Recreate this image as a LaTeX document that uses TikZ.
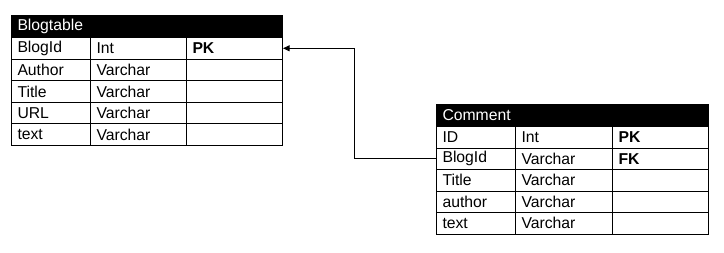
\documentclass[tikz,border=0pt]{standalone}
\usepackage{fontspec}
\setmainfont{Liberation Sans}
\usetikzlibrary{positioning}
\usetikzlibrary{arrows.meta}

\begin{document}
\begin{tikzpicture}[x=0.75pt,y=-0.75pt,line width=0.75pt,
  cell/.style={draw, anchor=north west, minimum height=16.2pt, inner xsep=4.5pt, inner ysep=0pt,
    text width=#1, align=left, font=\fontsize{11.8}{13}\selectfont},
  headbox/.style={cell=#1, fill=black, text=white, minimum height=16.5pt}]
  \useasboundingbox (0,0) rectangle (724,253);

  % Blogtable
  \node[headbox=194.25pt] (bt-head) at (11,15) {Blogtable};
  \foreach \n/\t/\k [count=\i] in {BlogId/Int/\textbf{PK}, Author/Varchar/{}, Title/Varchar/{},
      URL/Varchar/{}, text/Varchar/{}}
  {
    \node[cell=50.25pt] (bt-\i-1) at (11,{37+21.6*(\i-1)}) {\n};
    \node[cell=63pt] (bt-\i-2) at (90,{37+21.6*(\i-1)}) {\t};
    \node[cell=63pt] (bt-\i-3) at (186,{37+21.6*(\i-1)}) {\k};
  }

  % Comment
  \node[headbox=195pt] (cm-head) at (436,104) {Comment};
  \foreach \n/\t/\k [count=\i] in {ID/Int/\textbf{PK}, BlogId/Varchar/\textbf{FK}, Title/Varchar/{},
      author/Varchar/{}, text/Varchar/{}}
  {
    \node[cell=50.25pt] (cm-\i-1) at (436,{126+21.5*(\i-1)}) {\n};
    \node[cell=63.75pt] (cm-\i-2) at (515,{126+21.5*(\i-1)}) {\t};
    \node[cell=63pt] (cm-\i-3) at (612,{126+21.5*(\i-1)}) {\k};
  }

  % foreign key
  \coordinate (bend) at (354,0);
  \draw[-{Triangle[length=5pt,width=4.5pt]}] (cm-2-1.west) -| (bend |- bt-1-3.east) -- (bt-1-3.east);
\end{tikzpicture}
\end{document}
